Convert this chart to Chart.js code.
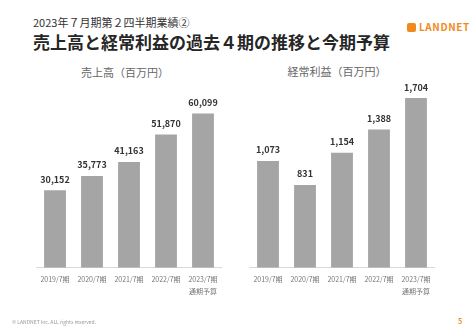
<!DOCTYPE html>
<html lang="ja">
<head>
<meta charset="utf-8">
<script src="https://cdn.jsdelivr.net/npm/chart.js@4/dist/chart.umd.min.js"></script>
<style>
  html, body { margin: 0; padding: 0; background: #fff; }
  body { width: 474px; height: 335px; position: relative; overflow: hidden;
         font-family: "Noto Sans CJK JP", "Noto Sans", sans-serif; }
  .abs { position: absolute; white-space: nowrap; }
  #kicker { left: 33px; top: 14px; font-size: 11px; color: #333; }
  #headline { left: 33px; top: 29px; font-size: 17px; font-weight: bold; color: #262626; }
  #logo { left: 407px; top: 19px; font-size: 10px; font-weight: bold; color: #f08a1c; letter-spacing: 0.6px; }
  #logo .mark { display: inline-block; width: 9px; height: 9px; border-radius: 2px; background: #f08a1c;
                vertical-align: -1px; margin-right: 3px; }
  .sub { font-size: 11px; color: #666; transform: translateX(-50%); }
  #subLeft { left: 125px; top: 64px; }
  #subRight { left: 337px; top: 63px; }
  #footer { left: 12px; top: 318px; font-size: 5px; color: #999; }
  #page { left: 458px; top: 316px; font-size: 7px; font-weight: bold; color: #f08a1c; }
  .box { position: absolute; top: 0; width: 237px; height: 335px; }
</style>
</head>
<body>
<div class="abs" id="kicker">2023年７月期第２四半期業績②</div>
<div class="abs" id="headline">売上高と経常利益の過去４期の推移と今期予算</div>
<div class="abs" id="logo"><span class="mark"></span>LANDNET</div>
<div class="abs sub" id="subLeft">売上高（百万円）</div>
<div class="abs sub" id="subRight">経常利益（百万円）</div>
<div class="box" style="left:0"><canvas id="salesChart"></canvas></div>
<div class="box" style="left:237px"><canvas id="profitChart"></canvas></div>
<div class="abs" id="footer">© LANDNET Inc. ALL rights reserved.</div>
<div class="abs" id="page">5</div>
<script>
const periods = ['2019/7期', '2020/7期', '2021/7期', '2022/7期', ['2023/7期', '通期予算']];
const sales = [30152, 35773, 41163, 51870, 60099];
const ordinaryProfit = [1073, 831, 1154, 1388, 1704];

// write the figure above each bar
const valueLabels = {
  id: 'valueLabels',
  afterDatasetsDraw(chart) {
    const { ctx } = chart;
    const meta = chart.getDatasetMeta(0);
    const values = chart.data.datasets[0].data;
    ctx.save();
    ctx.font = 'bold 9px "Noto Sans CJK JP", sans-serif';
    ctx.fillStyle = '#333';
    ctx.textAlign = 'center';
    ctx.textBaseline = 'middle';
    meta.data.forEach((bar, i) => {
      ctx.fillText(values[i].toLocaleString('en-US'), bar.x, bar.y - 11);
    });
    ctx.restore();
  }
};

function makeChart(id, values, max, padLeft, padRight) {
  return new Chart(document.getElementById(id), {
    type: 'bar',
    data: {
      labels: periods,
      datasets: [{
        data: values,
        backgroundColor: '#a5a5a5',
        barPercentage: 0.59,
        categoryPercentage: 1
      }]
    },
    options: {
      responsive: true,
      maintainAspectRatio: false,
      animation: false,
      layout: { padding: { left: padLeft, right: padRight, top: 97, bottom: 32 } },
      plugins: { legend: { display: false }, tooltip: { enabled: false } },
      scales: {
        x: {
          grid: { display: false, drawTicks: false },
          border: { color: '#d9d9d9' },
          ticks: {
            color: '#777',
            padding: 5,
            maxRotation: 0,
            font: { family: '"Noto Sans CJK JP", sans-serif', size: 7, lineHeight: 1.8 }
          }
        },
        y: { display: false, min: 0, max: max }
      }
    },
    plugins: [valueLabels]
  });
}

makeChart('salesChart', sales, 66500, 36.5, 15.5);
makeChart('profitChart', ordinaryProfit, 1715, 12.5, 39.5);
</script>
</body>
</html>
